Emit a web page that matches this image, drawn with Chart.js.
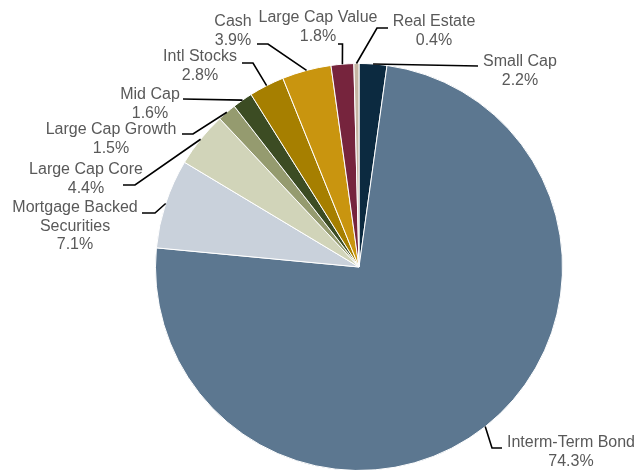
<!DOCTYPE html>
<html>
<head>
<meta charset="utf-8">
<script src="https://cdn.jsdelivr.net/npm/chart.js@4.4.1/dist/chart.umd.min.js"></script>
<style>
  html, body { margin: 0; padding: 0; background: #ffffff; overflow: hidden; }
  #wrap { width: 637px; height: 474px; position: relative; }
</style>
</head>
<body>
<div id="wrap"><canvas id="c" width="637" height="474"></canvas></div>
<script>
// ---- Data ----
const categories = ['Small Cap', 'Interm-Term Bond', 'Mortgage Backed Securities', 'Large Cap Core',
  'Large Cap Growth', 'Mid Cap', 'Intl Stocks', 'Cash', 'Large Cap Value', 'Real Estate'];
const values = [2.2, 74.3, 7.1, 4.4, 1.5, 1.6, 2.8, 3.9, 1.8, 0.4];
const labelLines = [['Small Cap'], ['Interm-Term Bond'], ['Mortgage Backed', 'Securities'], ['Large Cap Core'],
  ['Large Cap Growth'], ['Mid Cap'], ['Intl Stocks'], ['Cash'], ['Large Cap Value'], ['Real Estate']];
const sliceColors = ['#0C2A40', '#5C7790', '#C9D1DB', '#D1D4B9', '#959B6F', '#3C4C23',
  '#A67F00', '#C9950F', '#76243D', '#C5B5A3'];

// ---- Label layout (leader elbows and text centres, canvas px) ----
const labelLayout = [
  { pts: [[478, 66]], text: [520, 62] },
  { pts: [[492, 448], [502, 448]], text: [571, 443] },
  { pts: [[155, 213], [142, 213]], text: [75, 208] },
  { pts: [[135, 185], [123, 185]], text: [86, 170] },
  { pts: [[193, 134], [182, 134]], text: [111, 130] },
  { pts: [[183, 99]], text: [150, 95] },
  { pts: [[253, 63], [242, 63]], text: [200, 57] },
  { pts: [[268, 44], [257, 44]], text: [233, 22] },
  { pts: [[342.5, 44], [338, 44]], text: [318, 18] },
  { pts: [[377, 28], [388, 28]], text: [434, 22] }
];

const leaderPlugin = {
  id: 'leaders',
  afterDatasetsDraw(chart) {
    const ctx = chart.ctx;
    const meta = chart.getDatasetMeta(0);
    ctx.save();
    meta.data.forEach((arc, i) => {
      const p = arc.getProps(['x', 'y', 'startAngle', 'endAngle', 'outerRadius'], true);
      const mid = (p.startAngle + p.endAngle) / 2;
      const ax = p.x + Math.cos(mid) * p.outerRadius;
      const ay = p.y + Math.sin(mid) * p.outerRadius;
      const L = labelLayout[i];
      ctx.beginPath();
      ctx.moveTo(ax, ay);
      L.pts.forEach(pt => ctx.lineTo(pt[0], pt[1]));
      ctx.strokeStyle = '#000000';
      ctx.lineWidth = 1.6;
      ctx.stroke();

      const lines = labelLines[i].concat([values[i].toFixed(1) + '%']);
      ctx.fillStyle = '#595959';
      ctx.font = '16px "Liberation Sans", Arial, sans-serif';
      ctx.textAlign = 'center';
      ctx.textBaseline = 'middle';
      lines.forEach((t, k) => {
        ctx.fillText(t, L.text[0], L.text[1] + k * 18.5);
      });
    });
    ctx.restore();
  }
};

new Chart(document.getElementById('c'), {
  type: 'pie',
  data: {
    labels: categories,
    datasets: [{
      data: values,
      backgroundColor: sliceColors,
      borderColor: '#ffffff',
      borderWidth: 1
    }]
  },
  options: {
    responsive: false,
    animation: false,
    devicePixelRatio: 1,
    layout: { padding: { left: 155, right: 74, top: 63, bottom: 3 } },
    plugins: {
      legend: { display: false },
      tooltip: { enabled: false }
    }
  },
  plugins: [leaderPlugin]
});
</script>
</body>
</html>
